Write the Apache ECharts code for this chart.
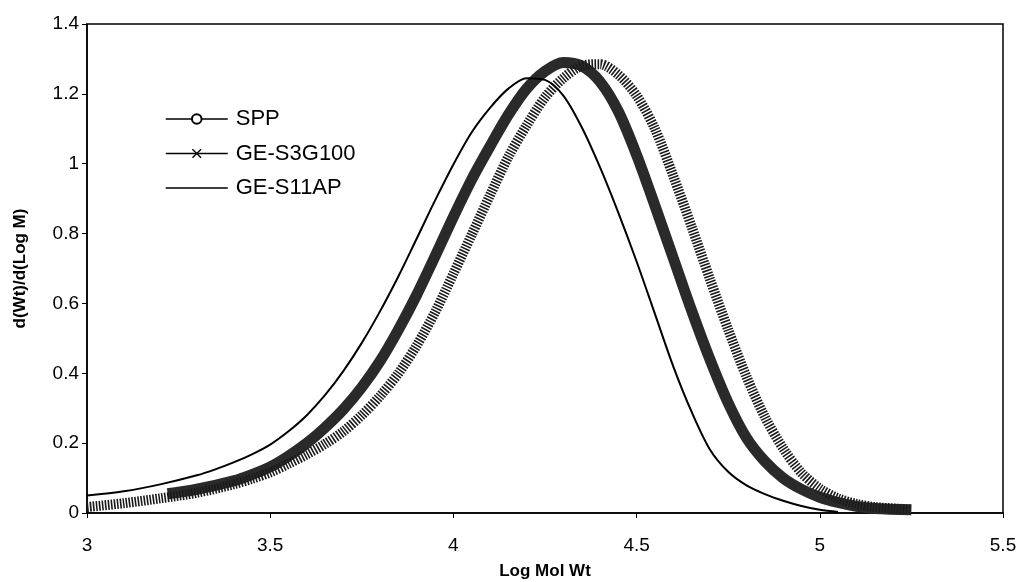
<!DOCTYPE html>
<html>
<head>
<meta charset="utf-8">
<script src="https://cdn.jsdelivr.net/npm/echarts@6/dist/echarts.min.js"></script>
<style>html,body{margin:0;padding:0;background:#fff}#c{width:1025px;height:582px}</style>
</head>
<body>
<div id="c"></div>
<script>
var seriesNames = ['SPP', 'GE-S3G100', 'GE-S11AP'];
var xTickLabels = ['3', '3.5', '4', '4.5', '5', '5.5'];
var yTickLabels = ['0', '0.2', '0.4', '0.6', '0.8', '1', '1.2', '1.4'];

var sppX = [3.22, 3.3, 3.4, 3.45, 3.5, 3.55, 3.6, 3.65, 3.7, 3.75, 3.8, 3.85, 3.9, 3.95, 4.0, 4.05, 4.1, 4.15, 4.2, 4.25, 4.3, 4.35, 4.4, 4.45, 4.5, 4.55, 4.6, 4.65, 4.7, 4.75, 4.8, 4.85, 4.9, 4.95, 5.0, 5.05, 5.1, 5.15, 5.25];
var sppY = [0.055, 0.068, 0.092, 0.11, 0.132, 0.163, 0.2, 0.245, 0.297, 0.36, 0.435, 0.525, 0.625, 0.735, 0.848, 0.955, 1.05, 1.14, 1.215, 1.265, 1.29, 1.28, 1.235, 1.15, 1.025, 0.88, 0.73, 0.58, 0.44, 0.315, 0.215, 0.148, 0.10, 0.068, 0.045, 0.03, 0.019, 0.013, 0.009];

var s3gX = [3.0, 3.1, 3.2, 3.3, 3.4, 3.45, 3.5, 3.55, 3.6, 3.65, 3.7, 3.75, 3.8, 3.85, 3.9, 3.95, 4.0, 4.05, 4.1, 4.15, 4.2, 4.25, 4.3, 4.35, 4.4, 4.45, 4.5, 4.55, 4.6, 4.65, 4.7, 4.75, 4.8, 4.85, 4.9, 4.95, 5.0, 5.05, 5.1, 5.15, 5.25];
var s3gY = [0.017, 0.028, 0.042, 0.058, 0.082, 0.098, 0.116, 0.141, 0.168, 0.198, 0.234, 0.28, 0.335, 0.40, 0.48, 0.575, 0.685, 0.797, 0.91, 1.02, 1.11, 1.19, 1.245, 1.28, 1.285, 1.255, 1.195, 1.10, 0.965, 0.82, 0.67, 0.525, 0.39, 0.275, 0.185, 0.115, 0.07, 0.042, 0.026, 0.017, 0.01];

var s11X = [3.0, 3.1, 3.2, 3.3, 3.35, 3.4, 3.45, 3.5, 3.55, 3.6, 3.65, 3.7, 3.75, 3.8, 3.85, 3.9, 3.95, 4.0, 4.05, 4.1, 4.15, 4.2, 4.25, 4.3, 4.35, 4.4, 4.45, 4.5, 4.55, 4.6, 4.65, 4.7, 4.75, 4.8, 4.85, 4.9, 4.95, 5.0, 5.05];
var s11Y = [0.050, 0.062, 0.082, 0.108, 0.125, 0.145, 0.168, 0.196, 0.234, 0.28, 0.338, 0.407, 0.487, 0.578, 0.678, 0.786, 0.895, 0.998, 1.09, 1.16, 1.215, 1.245, 1.24, 1.195, 1.105, 0.99, 0.86, 0.72, 0.57, 0.42, 0.29, 0.182, 0.118, 0.079, 0.054, 0.035, 0.02, 0.009, 0.003];

function pairs(xs, ys) { return xs.map(function (x, i) { return [x, ys[i]]; }); }

var FONT = '"Liberation Sans", Arial, sans-serif';
var XPATH = 'path://M0,1L1,0L5,4L9,0L10,1L6,5L10,9L9,10L5,6L1,10L0,9L4,5Z';
var LINEPATH = 'path://M0,0L0.01,0L0.01,0.01Z M0,5.3L62,5.3L62,6.7L0,6.7Z M0,12L0.01,12L0.01,11.99Z';
var chart = echarts.init(document.getElementById('c'), null, {renderer: 'canvas'});
chart.setOption({
  backgroundColor: '#fff',
  animation: false,
  grid: {left: 87, right: 22, top: 24, bottom: 69, outerBoundsMode: 'none', containLabel: false,
         show: true, borderColor: '#000', borderWidth: 1.5, backgroundColor: 'transparent'},
  legend: {
    orient: 'vertical', left: 160, top: 103, itemGap: 12.5, itemWidth: 62, itemHeight: 12,
    textStyle: {fontFamily: FONT, fontSize: 22, color: '#000', padding: [0, 0, 0, 3]},
    lineStyle: {width: 1.5, color: '#000', type: 'solid'},
    data: [
      {name: seriesNames[0], itemStyle: {color: '#000'}},
      {name: seriesNames[1], itemStyle: {color: '#000'}},
      {name: seriesNames[2], icon: LINEPATH, itemStyle: {color: '#000'}}
    ]
  },
  xAxis: {
    type: 'value', min: 3, max: 5.5, interval: 0.5,
    name: 'Log Mol Wt', nameLocation: 'middle', nameGap: 50,
    nameTextStyle: {fontFamily: FONT, fontSize: 17, fontWeight: 'bold', color: '#000'},
    axisLine: {lineStyle: {color: '#000', width: 1.5}},
    axisTick: {show: true, inside: false, length: 5, lineStyle: {color: '#000'}},
    axisLabel: {fontFamily: FONT, fontSize: 19, color: '#000', margin: 23,
      formatter: function (v) { return xTickLabels[Math.round((v - 3) / 0.5)]; }},
    splitLine: {show: false}
  },
  yAxis: {
    type: 'value', min: 0, max: 1.4, interval: 0.2,
    name: 'd(Wt)/d(Log M)', nameLocation: 'middle', nameGap: 58,
    nameTextStyle: {fontFamily: FONT, fontSize: 17, fontWeight: 'bold', color: '#000'},
    axisLine: {show: true, lineStyle: {color: '#000', width: 1.5}},
    axisTick: {show: true, inside: false, length: 5, lineStyle: {color: '#000'}},
    axisLabel: {fontFamily: FONT, fontSize: 19, color: '#000', margin: 8,
      formatter: function (v) { return yTickLabels[Math.round(v / 0.2)]; }},
    splitLine: {show: false}
  },
  series: [
    {name: seriesNames[0], type: 'line', smooth: 0.3, showSymbol: false, symbol: 'emptyCircle', symbolSize: 9,
     data: pairs(sppX, sppY), lineStyle: {color: '#2a2a2a', width: 11}, itemStyle: {color: '#000'}, z: 3},
    {name: seriesNames[1], type: 'line', smooth: 0.3, showSymbol: false, symbol: XPATH, symbolSize: 9,
     data: pairs(s3gX, s3gY), lineStyle: {color: '#1a1a1a', width: 10, type: [1.6, 1.4]}, itemStyle: {color: '#000'}, z: 4},
    {name: seriesNames[2], type: 'line', smooth: 0.3, showSymbol: false, symbol: 'none',
     data: pairs(s11X, s11Y), lineStyle: {color: '#000', width: 2}, itemStyle: {color: '#000'}, z: 5}
  ]
});
</script>
</body>
</html>
